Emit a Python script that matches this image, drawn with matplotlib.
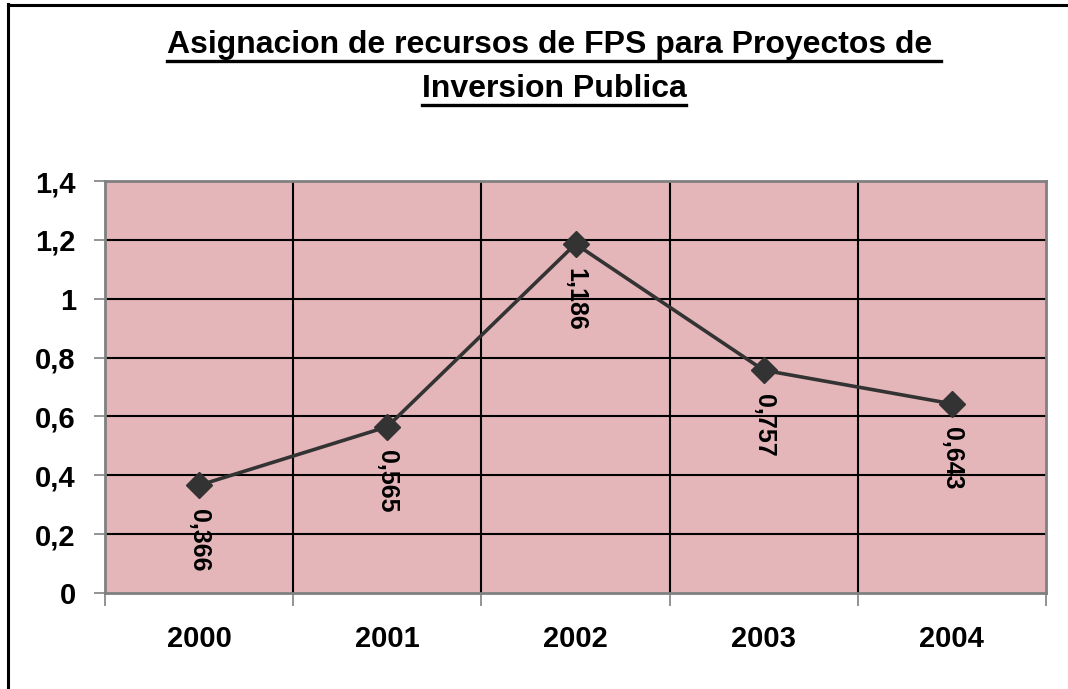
import matplotlib
matplotlib.use("Agg")
import matplotlib.pyplot as plt
from matplotlib.lines import Line2D

plt.rcParams['font.family'] = ['Liberation Sans', 'DejaVu Sans']

# datos
years = ["2000", "2001", "2002", "2003", "2004"]
values = [0.366, 0.565, 1.186, 0.757, 0.643]
labels = ["0,366", "0,565", "1,186", "0,757", "0,643"]
yticks = [0, 0.2, 0.4, 0.6, 0.8, 1.0, 1.2, 1.4]
ytick_labels = ["0", "0,2", "0,4", "0,6", "0,8", "1", "1,2", "1,4"]
title_lines = ["Asignacion de recursos de FPS para Proyectos de ", "Inversion Publica"]

W, H = 1068, 689
fig = plt.figure(figsize=(W / 100, H / 100), dpi=100)
ax = fig.add_axes([105 / W, 1 - 593 / H, (1046 - 105) / W, (593 - 181) / H])

ax.set_facecolor("#e4b6ba")
x = list(range(len(years)))
ax.plot(x, values, color="#333333", lw=2.6, marker="D", markersize=13, zorder=5)

for xi, v, lab in zip(x, values, labels):
    ax.annotate(lab, (xi, v), xytext=(0, -17), textcoords="offset points",
                rotation=270, ha="center", va="top", fontsize=18,
                fontweight="bold", zorder=6)

ax.set_xlim(-0.5, len(years) - 0.5)
ax.set_ylim(0, 1.4)
ax.set_yticks(yticks)
ax.set_yticklabels(ytick_labels, fontsize=21, fontweight="bold")
ax.set_xticks(x)
ax.set_xticklabels(years, fontsize=21, fontweight="bold")
ax.tick_params(axis="x", length=0, pad=23)
ax.tick_params(axis="y", length=8, width=1.2, color="#808080", pad=13)

# lineas de la cuadricula
for yv in yticks[1:-1]:
    ax.axhline(yv, color="black", lw=1.5, zorder=2)
for b in range(1, len(years)):
    ax.axvline(b - 0.5, color="black", lw=1.5, zorder=2)
ax.set_xticks([b - 0.5 for b in range(len(years) + 1)], minor=True)
ax.tick_params(axis="x", which="minor", length=9, width=1.2, color="#808080")

for s in ax.spines.values():
    s.set_color("#808080")
    s.set_linewidth(2)

# marco de la figura (solo arriba e izquierda)
fig.add_artist(Line2D([7.5 / W, 7.5 / W], [0, 1 - 4 / H], color="black", lw=2.2, transform=fig.transFigure))
fig.add_artist(Line2D([7.5 / W, 1], [1 - 4.5 / H, 1 - 4.5 / H], color="black", lw=2.2, transform=fig.transFigure))

# titulo subrayado
fig.canvas.draw()
renderer = fig.canvas.get_renderer()
for line, base in zip(title_lines, [53, 97]):
    t = fig.text(554 / W, 1 - base / H, line, ha="center", va="baseline",
                 fontsize=23, fontweight="bold")
    bb = t.get_window_extent(renderer)
    uy = 1 - (base + 8) / H
    fig.add_artist(Line2D([bb.x0 / W, bb.x1 / W], [uy, uy], color="black", lw=2.4,
                          transform=fig.transFigure))

fig.savefig("out.png", dpi=100)
